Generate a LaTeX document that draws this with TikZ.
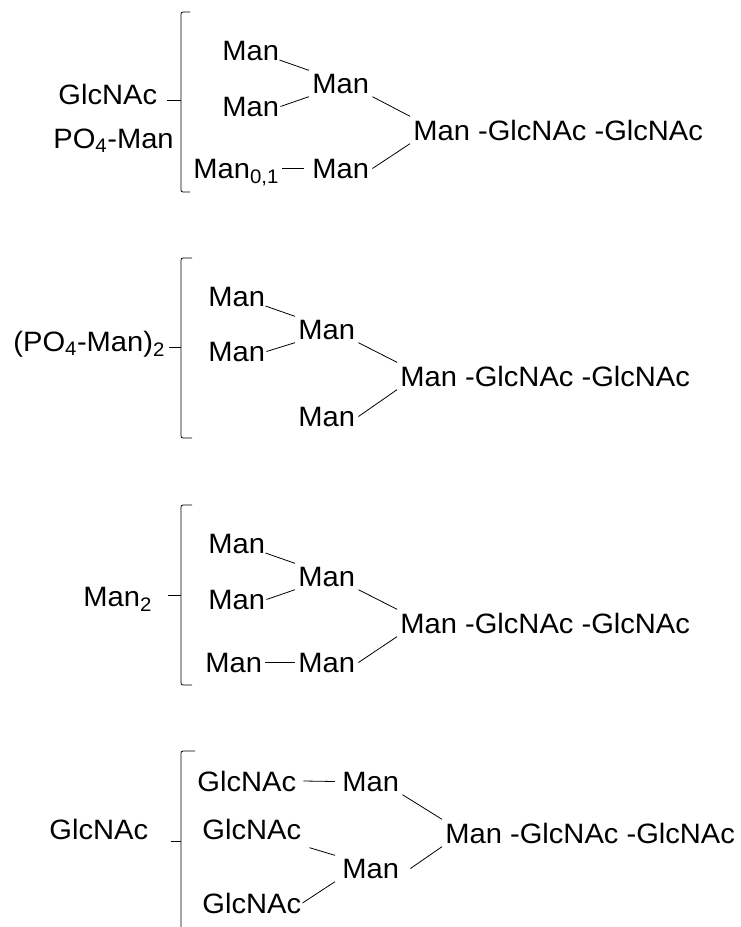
\documentclass[tikz,border=0pt]{standalone}
\usepackage{fontspec}
\setmainfont{Liberation Sans}[FakeStretch=1.04]
\begin{document}
\begin{tikzpicture}[x=1pt,y=-1pt,line width=0.8pt,
	sugar/.style={anchor=base west,inner sep=3pt,font=\fontsize{28}{33}\selectfont}]
	\useasboundingbox (0,0) rectangle (741,927);
	% brackets
	\foreach \t/\b/\m/\h/\k in {12/192/100/190/167, 258/438/347/192/169, 505/685/595/192/168, 751/940/841/195/171}{
	\draw[rounded corners=2pt] (\h,\t) -- (181,\t) -- (181,\b) -- (\h,\b);
	\draw (\k,\m) -- (181,\m);
	}
	% first
	\node[sugar] (gA) at (55,104) {GlcNAc};
	\node[sugar] (pA) at (50,148) {PO\textsubscript{4}-Man};
	\node[sugar] (a1) at (219,60) {Man};
	\node[sugar] (a2) at (219,116) {Man};
	\node[sugar] (a3) at (309,93) {Man};
	\node[sugar] (a4) at (190,178) {Man\textsubscript{0,1}};
	\node[sugar] (a5) at (309,178) {Man};
	\node[sugar] (a6) at (410,140) {Man -GlcNAc -GlcNAc};
	\draw ([xshift=-3pt]a1.base east) -- (a3.north west);
	\draw ([xshift=-2pt]a2.east) -- (a3.south west);
	\draw (a4.east |- a5.west) -- ([xshift=-5pt]a5.west);
	\draw (a3.south east) -- (a6.north west);
	\draw (a5.east) -- (a6.south west);
	% second
	\node[sugar] (pB) at (10,351) {(PO\textsubscript{4}-Man)\textsubscript{2}};
	\node[sugar] (b1) at (205,306) {Man};
	\node[sugar] (b2) at (205,361) {Man};
	\node[sugar] (b3) at (295,339) {Man};
	\node[sugar] (b4) at (295,426) {Man};
	\node[sugar] (b5) at (397,386) {Man -GlcNAc -GlcNAc};
	\draw ([xshift=-3pt]b1.base east) -- (b3.north west);
	\draw ([xshift=-2pt]b2.east) -- (b3.south west);
	\draw (b3.south east) -- (b5.north west);
	\draw (b4.east) -- (b5.south west);
	% third
	\node[sugar] (mC) at (80,606) {Man\textsubscript{2}};
	\node[sugar] (c1) at (205,553) {Man};
	\node[sugar] (c2) at (205,609) {Man};
	\node[sugar] (c3) at (295,586) {Man};
	\node[sugar] (c4) at (202,672) {Man};
	\node[sugar] (c5) at (295,672) {Man};
	\node[sugar] (c6) at (397,633) {Man -GlcNAc -GlcNAc};
	\draw ([xshift=-3pt]c1.base east) -- (c3.north west);
	\draw ([xshift=-2pt]c2.east) -- (c3.south west);
	\draw (c4.east) -- (c5.west);
	\draw (c3.south east) -- (c6.north west);
	\draw (c5.east) -- (c6.south west);
	% fourth
	\node[sugar] (gD) at (46,839) {GlcNAc};
	\node[sugar] (d1) at (194,791) {GlcNAc};
	\node[sugar] (d2) at (339,791) {Man};
	\node[sugar] (d3) at (199,839) {GlcNAc};
	\node[sugar] (d4) at (339,878) {Man};
	\node[sugar] (d5) at (199,913) {GlcNAc};
	\node[sugar] (d6) at (442,843) {Man -GlcNAc -GlcNAc};
	\draw ([xshift=4pt]d1.east) -- ([xshift=-4pt]d2.west);
	\draw ([shift={(5,5)}]d3.south east) -- ([xshift=-4pt]d4.north west);
	\draw ([xshift=-2pt]d5.east) -- ([xshift=-4pt]d4.south west);
	\draw (d2.south east) -- (d6.north west);
	\draw ([xshift=8pt]d4.east) -- (d6.south west);
\end{tikzpicture}
\end{document}
